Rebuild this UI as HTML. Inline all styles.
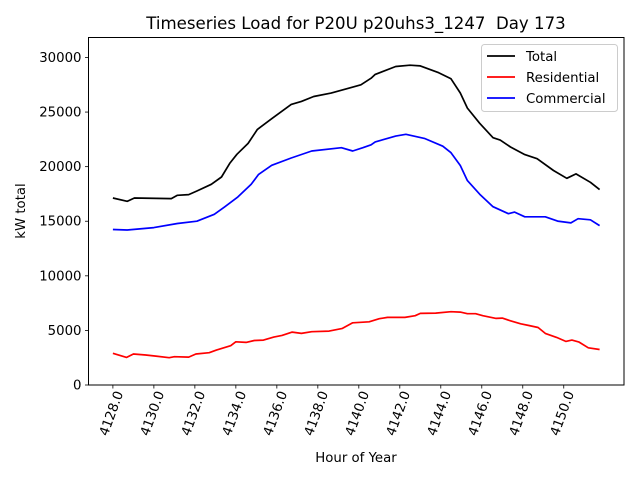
<!DOCTYPE html>
<html><head><meta charset="utf-8"><style>
body{margin:0;background:#fff;}
svg{display:block;font-family:"DejaVu Sans","Liberation Sans",sans-serif;}
</style></head><body>
<svg id="chart" width="640" height="480">
<rect width="640" height="480" fill="#fff"/>
</svg>
<script>
const yTicks=[0,5000,10000,15000,20000,25000,30000];
const xTicks=[4128,4130,4132,4134,4136,4138,4140,4142,4144,4146,4148,4150];
const totalHours=[4128,4128.7,4129.05,4130.85,4131.15,4131.7,4132.1,4132.8,4133.3,4133.7,4134.05,4134.6,4135.05,4135.75,4136.7,4137.2,4137.8,4138.65,4139.6,4140.1,4140.6,4140.8,4141.8,4142.5,4143.0,4143.9,4144.5,4144.95,4145.3,4145.9,4146.55,4146.9,4147.4,4148.1,4148.7,4149.5,4150.15,4150.6,4151.3,4151.75];
const totalValues=[17130,16830,17130,17070,17380,17440,17770,18380,19050,20300,21130,22130,23410,24390,25700,25980,26430,26740,27230,27500,28100,28450,29170,29290,29230,28610,28050,26750,25360,23970,22650,22430,21800,21100,20730,19650,18930,19340,18570,17900];
const comHours=[4128,4128.7,4130.0,4131.15,4132.1,4132.95,4133.45,4134.1,4134.75,4135.1,4135.75,4136.7,4137.7,4139.15,4139.7,4140.2,4140.6,4140.8,4141.8,4142.3,4143.2,4144.1,4144.5,4144.95,4145.3,4145.9,4146.55,4147.3,4147.6,4148.1,4149.1,4149.7,4150.35,4150.7,4151.3,4151.75];
const comValues=[14240,14200,14420,14790,15000,15640,16310,17230,18380,19270,20120,20790,21430,21740,21430,21740,22000,22270,22800,22960,22590,21870,21280,20110,18720,17480,16330,15690,15840,15410,15410,15010,14850,15230,15130,14600];
const resHours=[4128,4128.67,4129.0,4129.6,4130.1,4130.75,4131.0,4131.7,4132.05,4132.7,4133.05,4133.75,4134.0,4134.5,4134.9,4135.35,4135.85,4136.25,4136.75,4137.2,4137.7,4138.55,4139.2,4139.7,4140.5,4141.0,4141.4,4142.25,4142.75,4143.0,4143.75,4144.5,4144.95,4145.3,4145.7,4146.05,4146.7,4147.0,4147.4,4147.9,4148.3,4148.75,4149.1,4149.65,4150.1,4150.4,4150.75,4151.2,4151.75];
const resValues=[2900,2530,2840,2750,2650,2500,2590,2560,2840,2960,3200,3600,3960,3900,4080,4110,4390,4540,4850,4730,4880,4940,5180,5700,5790,6070,6190,6190,6350,6560,6590,6710,6680,6530,6530,6350,6100,6130,5880,5610,5450,5270,4730,4360,3990,4110,3930,3410,3250];

const NS="http://www.w3.org/2000/svg";
const svg=document.getElementById('chart');
const L=88.5,R=624,T=37.5,B=385;
const X0=4126.81,X1=4152.94,Y0=0,Y1=31830;
const sx=v=>L+(v-X0)/(X1-X0)*(R-L);
const sy=v=>B-(v-Y0)/(Y1-Y0)*(B-T);
function mk(tag,attrs,parent){const e=document.createElementNS(NS,tag);for(const k in attrs)e.setAttribute(k,attrs[k]);(parent||svg).appendChild(e);return e;}

function series(hs,vs,color,name){
  const p=mk('polyline',{points:hs.map((h,i)=>sx(h).toFixed(1)+','+sy(vs[i]).toFixed(1)).join(' '),fill:'none',stroke:color,'stroke-width':1.7,'stroke-linejoin':'round'});
  
  
}
series(totalHours,totalValues,'#000','total-line');
series(resHours,resValues,'#f00','residential-line');
series(comHours,comValues,'#00f','commercial-line');

const frame=mk('rect',{x:L,y:T,width:R-L,height:B-T,fill:'none',stroke:'#000','stroke-width':1});



yTicks.forEach(t=>{
  const y=sy(t);
  mk('line',{x1:L-3.5,x2:L,y1:y,y2:y,stroke:'#000','stroke-width':0.8});
  const tx=mk('text',{x:L-7,y:y+4.5,'text-anchor':'end','font-size':13.3});
  tx.textContent=String(t);
  
  
});
xTicks.forEach(t=>{
  const x=sx(t);
  mk('line',{x1:x,x2:x,y1:B,y2:B+3.5,stroke:'#000','stroke-width':0.8});
  const tx=mk('text',{x:0,y:0,'text-anchor':'end','font-size':13.3,transform:`translate(${x+10.5},${B+8}) rotate(-70)`});
  tx.textContent=t.toFixed(1);
  
  
});
</script>
<div style="position:absolute;left:0;top:0;width:640px;height:480px;pointer-events:none">
<svg width="640" height="480" style="font-family:'DejaVu Sans','Liberation Sans',sans-serif">
<text x="356" y="29" text-anchor="middle" font-size="16.6">Timeseries Load for P20U p20uhs3_1247 &#160;Day 173</text>
<text x="356" y="462" text-anchor="middle" font-size="13.3">Hour of Year</text>
<text transform="translate(25,211) rotate(-90)" text-anchor="middle" font-size="13.3">kW total</text>
<g>
<rect x="481.5" y="44.5" width="136" height="67" rx="3" fill="#fff" fill-opacity="0.8" stroke="#ccc"/>
<g><line x1="487" x2="515" y1="56" y2="56" stroke="#000" stroke-width="1.7"/><text x="526" y="61" font-size="13.3">Total</text></g>
<g><line x1="487" x2="515" y1="77" y2="77" stroke="#f00" stroke-width="1.7"/><text x="526" y="82" font-size="13.3">Residential</text></g>
<g><line x1="487" x2="515" y1="98" y2="98" stroke="#00f" stroke-width="1.7"/><text x="526" y="103" font-size="13.3">Commercial</text></g>
</g>
</svg>
</div>
</body></html>
